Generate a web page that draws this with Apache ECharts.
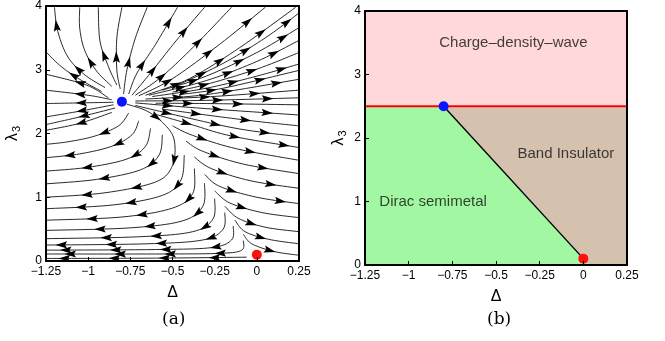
<!DOCTYPE html>
<html>
<head>
<meta charset="utf-8">
<script src="https://cdn.jsdelivr.net/npm/echarts@6/dist/echarts.min.js"></script>
<style>
html, body { margin: 0; padding: 0; background: #fff; }
#main { width: 665px; height: 341px; }
</style>
</head>
<body>
<div id="main"></div>
<script>
// ---- data ----
var xTicks = [-1.25, -1, -0.75, -0.5, -0.25, 0, 0.25];
var yTicks = [0, 1, 2, 3, 4];
var fixedPoints = [[-0.8, 2.5], [0, 0.1]];
var fixedColors = ['#0a14ff', '#ff1010'];

// streamlines of panel (a), in flow direction
var streamUpperLeft = [
  [[-0.92, 2.66], [-1.05, 2.85], [-1.16, 3.05], [-1.25, 3.28]],
  [[-0.9, 2.72], [-1.02, 2.92], [-1.12, 3.2], [-1.18, 3.6], [-1.2, 3.98]],
  [[-0.86, 2.74], [-0.95, 2.98], [-1.02, 3.3], [-1.05, 3.65], [-1.05, 3.98]],
  [[-0.83, 2.76], [-0.88, 3.05], [-0.93, 3.45], [-0.94, 3.98]],
  [[-0.81, 2.7], [-0.83, 3.0], [-0.83, 3.5], [-0.8, 3.98]]
];
var streamLeft = [
  [[-0.88, 2.56], [-1.01, 2.76], [-1.25, 2.93]],
  [[-0.86, 2.53], [-1.0, 2.6], [-1.25, 2.68]],
  [[-0.85, 2.49], [-1.05, 2.48], [-1.25, 2.47]],
  [[-0.85, 2.45], [-1.05, 2.35], [-1.25, 2.26]],
  [[-0.84, 2.4], [-1.05, 2.26], [-1.25, 2.14]],
  [[-0.86, 2.33], [-1.05, 2.16], [-1.25, 2.05]]
];
var streamArcs = [
  [[-0.76, 2.32], [-0.82, 2.12], [-0.96, 1.96], [-1.12, 1.87], [-1.25, 1.83]],
  [[-0.7, 2.2], [-0.74, 1.98], [-0.86, 1.8], [-1.05, 1.68], [-1.25, 1.62]],
  [[-0.63, 2.08], [-0.66, 1.8], [-0.77, 1.6], [-1.0, 1.47], [-1.25, 1.41]],
  [[-0.56, 1.98], [-0.58, 1.66], [-0.69, 1.43], [-0.95, 1.28], [-1.25, 1.21]],
  [[-0.77, 2.46], [-0.65, 2.35], [-0.55, 2.15], [-0.49, 1.9], [-0.5, 1.5], [-0.6, 1.24], [-0.9, 1.07], [-1.25, 1.0]],
  [[-0.43, 1.66], [-0.45, 1.27], [-0.56, 1.03], [-0.85, 0.88], [-1.25, 0.82]],
  [[-0.37, 1.45], [-0.38, 1.06], [-0.5, 0.83], [-0.8, 0.69], [-1.25, 0.64]],
  [[-0.31, 1.22], [-0.32, 0.86], [-0.44, 0.63], [-0.75, 0.52], [-1.25, 0.48]],
  [[-0.25, 0.98], [-0.26, 0.66], [-0.38, 0.46], [-0.7, 0.38], [-1.25, 0.35]],
  [[-0.19, 0.76], [-0.2, 0.5], [-0.32, 0.33], [-0.65, 0.27], [-1.25, 0.25]],
  [[-0.14, 0.55], [-0.15, 0.33], [-0.27, 0.21], [-0.6, 0.18], [-1.25, 0.17]],
  [[-0.08, 0.32], [-0.09, 0.17], [-0.22, 0.12], [-0.6, 0.11], [-1.25, 0.11]],
  [[-0.06, 0.06], [-0.6, 0.045], [-1.25, 0.04]]
];
var streamRight = [
  [[-0.6, 2.475], [-0.3, 2.47], [0.25, 2.45]],
  [[-0.72, 2.48], [-0.35, 2.4], [0.25, 2.29]],
  [[-0.55, 2.38], [-0.3, 2.29], [0.0, 2.19], [0.25, 2.12]],
  [[-0.72, 2.44], [-0.45, 2.27], [-0.1, 2.07], [0.25, 1.95]],
  [[-0.6, 2.3], [-0.4, 2.15], [-0.15, 1.96], [0.25, 1.78]],
  [[-0.5, 2.12], [-0.38, 1.97], [-0.12, 1.76], [0.25, 1.58]],
  [[-0.42, 1.88], [-0.32, 1.72], [-0.08, 1.52], [0.25, 1.37]],
  [[-0.37, 1.63], [-0.27, 1.45], [-0.04, 1.26], [0.25, 1.14]],
  [[-0.31, 1.36], [-0.22, 1.17], [0.0, 1.0], [0.25, 0.9]],
  [[-0.25, 1.1], [-0.16, 0.91], [0.03, 0.76], [0.25, 0.68]],
  [[-0.19, 0.86], [-0.11, 0.67], [0.05, 0.53], [0.25, 0.46]],
  [[-0.13, 0.64], [-0.07, 0.46], [0.07, 0.34], [0.25, 0.27]],
  [[-0.08, 0.42], [-0.03, 0.27], [0.1, 0.15], [0.25, 0.09]]
];
var streamFan = [
  [[-0.79, 2.62], [-0.77, 3.0], [-0.72, 3.5], [-0.65, 3.98]],
  [[-0.76, 2.62], [-0.71, 2.95], [-0.6, 3.4], [-0.47, 3.98]],
  [[-0.74, 2.6], [-0.63, 2.95], [-0.48, 3.45], [-0.31, 3.98]],
  [[-0.72, 2.6], [-0.56, 2.9], [-0.36, 3.4], [-0.15, 3.98]],
  [[-0.7, 2.59], [-0.5, 2.86], [-0.22, 3.4], [0.05, 3.98]],
  [[-0.66, 2.6], [-0.4, 2.86], [-0.1, 3.35], [0.23, 3.98]],
  [[-0.5, 2.72], [-0.2, 3.1], [0.05, 3.5], [0.25, 3.89]],
  [[-0.56, 2.68], [-0.3, 2.9], [0.0, 3.27], [0.25, 3.66]],
  [[-0.64, 2.6], [-0.3, 2.83], [0.0, 3.13], [0.25, 3.46]],
  [[-0.5, 2.65], [-0.3, 2.77], [0.0, 3.01], [0.25, 3.27]],
  [[-0.62, 2.58], [-0.3, 2.71], [0.0, 2.9], [0.25, 3.09]],
  [[-0.46, 2.61], [-0.2, 2.71], [0.25, 2.99]],
  [[-0.66, 2.54], [-0.3, 2.61], [0.25, 2.85]],
  [[-0.5, 2.55], [-0.2, 2.59], [0.25, 2.68]],
  [[-0.72, 2.51], [-0.3, 2.52], [0.25, 2.56]]
];
var streamlines = [].concat(streamUpperLeft, streamLeft, streamArcs, streamRight, streamFan);

// phase diagram, panel (b)
var cdwRegion = [[-1.25, 2.5], [0.25, 2.5], [0.25, 4], [-1.25, 4]];
var dsmRegion = [[-1.25, 0], [-1.25, 2.5], [-0.8, 2.5], [0, 0.1], [0.03, 0]];
var biRegion = [[-0.8, 2.5], [0.25, 2.5], [0.25, 0], [0.03, 0], [0, 0.1]];
var regions = [cdwRegion, dsmRegion, biRegion];
var regionColors = ['#ffd9d9', '#a2f8a2', '#d4c2af'];
var cdwBoundary = [[-1.25, 2.5], [0.25, 2.5]];
var dsmBoundary = [[-0.8, 2.5], [0, 0.1]];
var phaseNames = ['Charge\u2013density\u2013wave', 'Band Insulator', 'Dirac semimetal'];
var phasePos = [[-0.4, 3.5], [-0.1, 1.75], [-0.86, 0.99]];

var FONT = "'Liberation Sans', Arial, sans-serif";

function fmt(v) { return String(v).replace('-', '\u2212'); }

// catmull-rom through the pixel points, only for drawing
function smooth(pts) {
  if (pts.length < 3) return pts;
  var out = [];
  for (var i = 0; i < pts.length - 1; i++) {
    var p0 = pts[Math.max(i - 1, 0)], p1 = pts[i], p2 = pts[i + 1], p3 = pts[Math.min(i + 2, pts.length - 1)];
    for (var k = 0; k < 10; k++) {
      var t = k / 10, t2 = t * t, t3 = t2 * t;
      out.push([0, 1].map(function (d) {
        return 0.5 * ((2 * p1[d]) + (-p0[d] + p2[d]) * t + (2 * p0[d] - 5 * p1[d] + 4 * p2[d] - p3[d]) * t2 + (-p0[d] + 3 * p1[d] - 3 * p2[d] + p3[d]) * t3);
      }));
    }
  }
  out.push(pts[pts.length - 1]);
  return out;
}

function renderStream(params, api) {
  var path = smooth(streamlines[params.dataIndex].map(function (p) { return api.coord(p); }));
  var cum = [0];
  for (var i = 1; i < path.length; i++) {
    cum.push(cum[i - 1] + Math.hypot(path[i][0] - path[i - 1][0], path[i][1] - path[i - 1][1]));
  }
  var L = cum[cum.length - 1];
  var stops = [];
  if (L < 60) stops.push(L * 0.55);
  else for (var s = 32; s < L - 12; s += 50) stops.push(s);
  var children = [{
    type: 'polyline', shape: { points: path },
    style: { stroke: '#111', lineWidth: 0.9, fill: null }
  }];
  stops.forEach(function (s) {
    var j = 1;
    while (j < cum.length - 1 && cum[j] < s) j++;
    var a = path[j - 1], b = path[j];
    var seg = cum[j] - cum[j - 1] || 1;
    var f = (s - cum[j - 1]) / seg;
    var px = a[0] + (b[0] - a[0]) * f, py = a[1] + (b[1] - a[1]) * f;
    var ux = (b[0] - a[0]) / seg, uy = (b[1] - a[1]) / seg;
    var nx = -uy, ny = ux;
    children.push({
      type: 'polygon',
      shape: { points: [[px + ux * 6, py + uy * 6], [px - ux * 5.5 + nx * 3.6, py - uy * 5.5 + ny * 3.6], [px - ux * 3.5, py - uy * 3.5], [px - ux * 5.5 - nx * 3.6, py - uy * 5.5 - ny * 3.6]] },
      style: { fill: '#000' }
    });
  });
  return { type: 'group', children: children };
}

function renderRegion(params, api) {
  return {
    type: 'polygon',
    shape: { points: regions[params.dataIndex].map(function (p) { return api.coord(p); }) },
    style: { fill: regionColors[params.dataIndex], stroke: null }
  };
}

function axisPair(gi, yNameGap) {
  var line = { show: true, onZero: false, lineStyle: { color: '#000', width: 2 } };
  var xs = [{
    gridIndex: gi, type: 'value', min: -1.25, max: 0.25, interval: 0.25, position: 'bottom', z: 10,
    axisLine: line, axisTick: { inside: true, length: 4, lineStyle: { color: '#000' } },
    axisLabel: { color: '#000', fontSize: 12, fontFamily: FONT, margin: 5, formatter: fmt, showMinLabel: true, showMaxLabel: true },
    splitLine: { show: false },
    name: '\u0394', nameLocation: 'middle', nameGap: 24,
    nameTextStyle: { color: '#000', fontSize: 16, fontFamily: FONT }
  }, {
    gridIndex: gi, type: 'value', min: -1.25, max: 0.25, position: 'top', z: 10,
    axisLine: line, axisTick: { show: false }, axisLabel: { show: false }, splitLine: { show: false }
  }];
  var ys = [{
    gridIndex: gi, type: 'value', min: 0, max: 4, interval: 1, position: 'left', z: 10,
    axisLine: line, axisTick: { inside: true, length: 4, lineStyle: { color: '#000' } },
    axisLabel: { color: '#000', fontSize: 12, fontFamily: FONT, margin: 4, showMinLabel: true, showMaxLabel: true },
    splitLine: { show: false },
    name: '{l|\u03bb}{s|3}', nameLocation: 'middle', nameGap: yNameGap,
    nameTextStyle: { color: '#000', fontFamily: FONT, rich: { l: { fontSize: 16, fontFamily: FONT }, s: { fontSize: 11, fontFamily: FONT, padding: [8, 0, 0, 1] } } }
  }, {
    gridIndex: gi, type: 'value', min: 0, max: 4, position: 'right', z: 10,
    axisLine: line, axisTick: { show: false }, axisLabel: { show: false }, splitLine: { show: false }
  }];
  return { x: xs, y: ys };
}

var axA = axisPair(0, 24);
var axB = axisPair(1, 17);

var chart = echarts.init(document.getElementById('main'));
var option = {
  animation: false,
  grid: [
    { left: 46, top: 3, width: 253, height: 258 },
    { left: 365, top: 11, width: 262, height: 254 }
  ],
  xAxis: axA.x.concat(axB.x),
  yAxis: axA.y.concat(axB.y),
  graphic: [
    { type: 'text', left: 162, top: 311, style: { text: '(a)', font: '17px "DejaVu Serif", serif', fill: '#000' } },
    { type: 'text', left: 487, top: 311, style: { text: '(b)', font: '17px "DejaVu Serif", serif', fill: '#000' } }
  ],
  series: [
    {
      type: 'custom', xAxisIndex: 0, yAxisIndex: 0, clip: true,
      data: streamlines.map(function (s) { return s[0]; }),
      renderItem: renderStream, silent: true
    },
    {
      type: 'scatter', xAxisIndex: 0, yAxisIndex: 0, symbolSize: 10, z: 5,
      data: fixedPoints.map(function (p, i) { return { value: p, itemStyle: { color: fixedColors[i], opacity: 1 } }; })
    },
    {
      type: 'custom', xAxisIndex: 2, yAxisIndex: 2, clip: true,
      data: regions.map(function (r) { return r[0]; }),
      renderItem: renderRegion, silent: true
    },
    {
      type: 'line', xAxisIndex: 2, yAxisIndex: 2, data: cdwBoundary, symbol: 'none', z: 4,
      lineStyle: { color: '#ff0000', width: 2 }
    },
    {
      type: 'line', xAxisIndex: 2, yAxisIndex: 2, data: dsmBoundary, symbol: 'none', z: 4,
      lineStyle: { color: '#000', width: 1.4 }
    },
    {
      type: 'scatter', xAxisIndex: 2, yAxisIndex: 2, symbolSize: 10, z: 5,
      data: fixedPoints.map(function (p, i) { return { value: p, itemStyle: { color: fixedColors[i], opacity: 1 } }; })
    },
    {
      type: 'scatter', xAxisIndex: 2, yAxisIndex: 2, symbolSize: 0, z: 6,
      data: phasePos.map(function (p, i) { return { value: p, name: phaseNames[i] }; }),
      label: { show: true, position: 'inside', formatter: '{b}', color: '#111', fontSize: 15, fontFamily: FONT }
    }
  ]
};
chart.setOption(option);
window.addEventListener('resize', function () { chart.resize(); });
</script>
</body>
</html>
